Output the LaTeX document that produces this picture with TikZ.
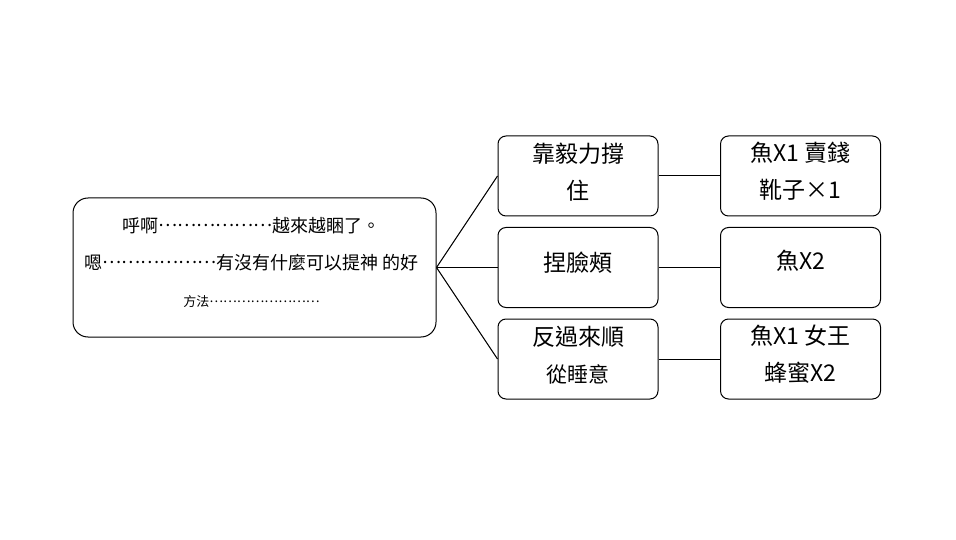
\documentclass[tikz,border=0pt]{standalone}
\usepackage{fontspec}
\setmainfont{Noto Sans CJK TC}
\newcommand{\middots}[1]{\raisebox{.33em}{#1}}
\tikzset{
  box/.style={draw, line width=1pt, rounded corners=8pt, minimum width=160pt, minimum height=80pt},
  txt/.style={align=center, inner sep=0pt, font=\fontsize{23pt}{37pt}\selectfont},
  link/.style={line width=1pt}
}
\begin{document}
\begin{tikzpicture}[x=1pt,y=-1pt]
	\useasboundingbox (0,0) rectangle (956,540);
	\node[draw, line width=1pt, rounded corners=15pt, minimum width=363pt, minimum height=139pt,
	  label={[txt, font=\fontsize{18pt}{37pt}\selectfont, yshift=5pt, xshift=-3pt]center:呼啊\middots{⋯⋯⋯⋯⋯⋯}越來越睏了。\\嗯\middots{⋯⋯⋯⋯⋯⋯}有沒有什麼可以提神 的好\\{\fontsize{13pt}{37pt}\selectfont 方法\middots{⋯⋯⋯⋯⋯⋯⋯⋯}}}] (tired) at (254.5,267.5) {};
	\node[box, label={[txt, yshift=4pt]center:靠毅力撐\\住}] (will) at (578,176) {};
	\node[box, label={[txt, yshift=5pt]center:捏臉頰}] (pinch) at (578,267.5) {};
	\node[box, label={[txt, yshift=4pt]center:反過來順\\{\fontsize{21pt}{37pt}\selectfont 從睡意}}] (sleep) at (578,359) {};
	\node[box, label={[txt, yshift=5pt]center:魚X1 賣錢\\靴子×1}] (r1) at (800.5,176) {};
	\node[box, label={[txt, yshift=7pt]center:魚X2}] (r2) at (800.5,267.5) {};
	\node[box, label={[txt, yshift=5pt]center:魚X1 女王\\蜂蜜X2}] (r3) at (800.5,359) {};
	% branches
	\draw[link] (tired.east) -- (will.west);
	\draw[link] (tired.east) -- (pinch.west);
	\draw[link] (tired.east) -- (sleep.west);
	\draw[link] (will) -- (r1);
	\draw[link] (pinch) -- (r2);
	\draw[link] (sleep) -- (r3);
\end{tikzpicture}
\end{document}
